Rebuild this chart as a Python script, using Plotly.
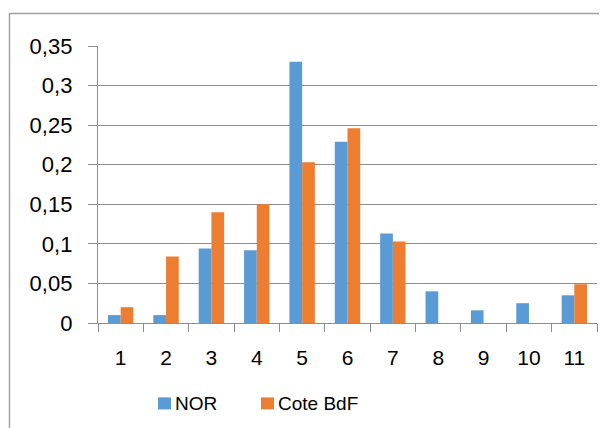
import plotly.graph_objects as go

categories = ["1", "2", "3", "4", "5", "6", "7", "8", "9", "10", "11"]
nor_values = [0.01, 0.01, 0.094, 0.092, 0.33, 0.229, 0.113, 0.040, 0.016, 0.025, 0.035]
cote_values = [0.02, 0.084, 0.14, 0.150, 0.203, 0.246, 0.103, 0, 0, 0, 0.049]
series_names = ["NOR", "Cote BdF"]
series_colors = ["#5B9BD5", "#ED7D31"]
y_tickvals = [0, 0.05, 0.1, 0.15, 0.2, 0.25, 0.3, 0.35]
y_ticktext = ["0", "0,05", "0,1", "0,15", "0,2", "0,25", "0,3", "0,35"]

FONT = "Liberation Sans, Arial, sans-serif"
GRID = "#8E8E8E"

# the page body has an 8px default margin: work in window pixels, shift by OFF
OFF = 8
W, H = 607 - OFF, 428 - OFF
plot_left, plot_right, plot_top, plot_bottom = 98, 597, 46, 322.7  # window px
L = plot_left - OFF
R = W - (plot_right - OFF)
T = plot_top - OFF
B = H - (plot_bottom - OFF)
pw = W - L - R
ph = H - T - B


def px2x(px):
    return (px - OFF - L) / pw


def py2y(py):
    return (H - B - (py - OFF)) / ph


fig = go.Figure()
for name, vals, col in zip(series_names, [nor_values, cote_values], series_colors):
    fig.add_trace(go.Bar(x=categories, y=vals, name=name,
                         marker=dict(color=col, line=dict(width=0))))

legend_x = [158, 261]
shapes = [dict(type="rect", xref="paper", yref="paper",
               x0=px2x(9.5), x1=px2x(700), y0=py2y(520), y1=py2y(13.5),
               line=dict(color="#A0A0A0", width=1.5), layer="below")]
annotations = []
for lx, name, col in zip(legend_x, series_names, series_colors):
    shapes.append(dict(type="rect", xref="paper", yref="paper",
                       x0=px2x(lx), x1=px2x(lx + 13), y0=py2y(409), y1=py2y(397),
                       fillcolor=col, line=dict(width=0)))
    annotations.append(dict(text=name, xref="paper", yref="paper",
                            x=px2x(lx + 15), y=py2y(403.5), xanchor="left",
                            yanchor="middle", showarrow=False,
                            font=dict(size=19, color="black", family=FONT)))

fig.update_layout(
    template="none",
    width=W, height=H,
    margin=dict(l=L, r=R, t=T, b=B, pad=0, autoexpand=False),
    paper_bgcolor="white", plot_bgcolor="white",
    barmode="group", bargap=0.44, bargroupgap=0,
    font=dict(family=FONT, size=21, color="black"),
    showlegend=False,
    xaxis=dict(type="category", showgrid=False, showline=True, automargin=False,
               linecolor=GRID, linewidth=1.3, ticks="outside",
               tickson="boundaries", ticklen=8, tickcolor=GRID, tickwidth=1.3,
               ticklabelstandoff=16, tickfont=dict(size=21)),
    yaxis=dict(range=[0, 0.35], tickvals=y_tickvals, ticktext=y_ticktext,
               automargin=False,
               showgrid=True, gridcolor=GRID, gridwidth=1.3,
               showline=True, linecolor=GRID, linewidth=1.3,
               ticks="outside", ticklen=9, tickcolor=GRID, tickwidth=1.3,
               ticklabelstandoff=11, zeroline=False, tickfont=dict(size=22)),
    shapes=shapes,
    annotations=annotations,
)

fig.write_html("out.html")
